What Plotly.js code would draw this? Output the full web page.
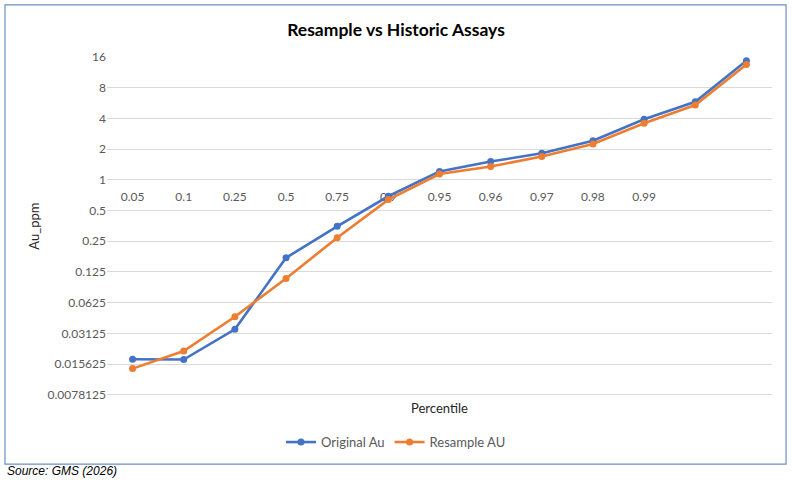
<!DOCTYPE html>
<html>
<head>
<meta charset="utf-8">
<script src="https://cdn.plot.ly/plotly-3.0.1.min.js"></script>
<style>
  html, body { margin: 0; padding: 0; background: #fff; }
  #chart { width: 792px; height: 484px; }
</style>
</head>
<body>
<div id="chart"></div>
<script>
// percentile categories (last two have no label on the axis)
const percentiles = ["0.05", "0.1", "0.25", "0.5", "0.75", "0.9", "0.95", "0.96", "0.97", "0.98", "0.99", "", ""];
const originalAu = [0.0174, 0.0173, 0.0342, 0.172, 0.35, 0.69, 1.21, 1.51, 1.82, 2.42, 3.92, 5.82, 14.7];
const resampleAu = [0.0141, 0.0210, 0.0455, 0.108, 0.27, 0.64, 1.14, 1.35, 1.69, 2.25, 3.58, 5.41, 13.5];
const yTicks = [0.0078125, 0.015625, 0.03125, 0.0625, 0.125, 0.25, 0.5, 1, 2, 4, 8, 16];

const xIdx = percentiles.map((p, i) => i);

const makeTrace = (name, values, color) => ({
  x: xIdx,
  y: values,
  name: name,
  type: "scatter",
  mode: "lines+markers",
  line: { color: color, width: 2.6 },
  marker: { color: color, size: 7 },
  hoverinfo: "none",
});

const data = [
  makeTrace("Original Au", originalAu, "#4472C4"),
  makeTrace("Resample AU", resampleAu, "#ED7D31"),
];

const font = "Lato, 'Open Sans', sans-serif";

const layout = {
  width: 792,
  height: 484,
  margin: { l: 107, r: 20, t: 57, b: 88 },
  paper_bgcolor: "#fff",
  plot_bgcolor: "#fff",
  font: { family: font, size: 12, color: "#595959" },
  showlegend: true,
  title: {
    text: "<b>Resample vs Historic Assays</b>",
    font: { family: font, size: 17.5, color: "#000" },
    x: 0.5,
    xanchor: "center",
    y: 1 - 30 / 484,
    yanchor: "middle",
  },
  xaxis: {
    range: [-0.5, 12.5],
    tickvals: xIdx,
    ticktext: percentiles,
    anchor: "free",
    position: 7 / 11, // category axis crosses at y = 1
    showgrid: false,
    zeroline: false,
    showline: false,
    ticks: "outside",
    ticklen: 5,
    tickcolor: "rgba(0,0,0,0)",
    tickfont: { size: 12, color: "#595959" },
    layer: "below traces",
  },
  yaxis: {
    type: "log",
    range: [Math.log10(0.0078125) - 0.012, Math.log10(16)],
    tickvals: yTicks,
    ticktext: yTicks.map(String),
    showgrid: true,
    gridcolor: "#d9d9d9",
    gridwidth: 1,
    zeroline: false,
    showline: false,
    ticks: "",
    tickfont: { size: 12, color: "#595959" },
  },
  legend: {
    orientation: "h",
    x: 0.4346,
    xanchor: "center",
    y: -0.136,
    yanchor: "middle",
    font: { size: 13, color: "#595959" },
    itemwidth: 30,
  },
  annotations: [
    {
      text: "Au_ppm",
      xref: "paper", yref: "paper",
      x: -0.111, y: 0.5,
      xanchor: "center", yanchor: "middle",
      textangle: -90,
      showarrow: false,
      font: { size: 13, color: "#262626" },
    },
    {
      text: "Percentile",
      xref: "paper", yref: "paper",
      x: 0.5, y: -0.0355,
      xanchor: "center", yanchor: "middle",
      showarrow: false,
      font: { size: 13, color: "#262626" },
    },
    {
      text: "<i>Source: GMS (2026)</i>",
      xref: "paper", yref: "paper",
      x: -0.1534, y: -0.222,
      xanchor: "left", yanchor: "middle",
      showarrow: false,
      font: { family: "'Liberation Sans', Arial, sans-serif", size: 12, color: "#000" },
    },
  ],
  shapes: [
    {
      type: "rect",
      xref: "paper", yref: "paper",
      x0: -0.1534, x1: 1.0211,
      y0: -0.2012, y1: 1.1538,
      line: { color: "#6f8fc4", width: 1.2 },
    },
  ],
};

const config = { staticPlot: true };

Plotly.newPlot("chart", data, layout, config);
</script>
</body>
</html>
